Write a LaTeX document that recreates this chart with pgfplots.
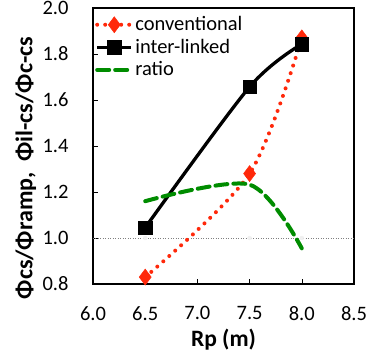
\documentclass[border=0pt]{standalone}
\usepackage{pgfplots}
\pgfplotsset{compat=1.18}
\usepackage{fontspec}
\setmainfont{Carlito}
\definecolor{cred}{RGB}{255,40,10}
\definecolor{cgreen}{RGB}{0,140,0}
\begin{document}
\begin{tikzpicture}
\fontsize{19}{23}\selectfont
\begin{axis}[
  name=ax,
  scale only axis,
  width=261pt, height=276pt,
  xmin=6.0, xmax=8.5, ymin=0.8, ymax=2.0,
  xtick={6.0,6.5,7.0,7.5,8.0,8.5},
  ytick={0.8,1.0,1.2,1.4,1.6,1.8,2.0},
  xticklabel style={/pgf/number format/.cd,fixed,fixed zerofill,precision=1},
  yticklabel style={/pgf/number format/.cd,fixed,fixed zerofill,precision=1},
  /pgf/number format/assume math mode=true,
  tick label style={font=\fontsize{20.5}{24}\selectfont},
  xticklabel shift=16pt,
  yticklabel shift=18pt,
  tick align=inside,
  xtick pos=left, ytick pos=left,
  major tick length=5pt,
  tick style={black, line width=0.6pt},
  axis line style={line width=1.8pt},
  clip=false,
  xlabel={\textbf{Rp (m)}},
  xlabel style={font=\fontsize{23.5}{26}\selectfont, at={(axis description cs:0.5,-0.2)}, anchor=center},
  ylabel={\textbf{Φcs/Φramp,\ \ Φil-cs/Φc-cs}},
  ylabel style={font=\fontsize{24}{26}\selectfont, at={(axis description cs:-0.257,0.42)}, anchor=center},
  legend style={draw=none, fill=none, at={(axis description cs:0.0,1.0)}, anchor=north west,
    font=\fontsize{20.5}{23}\selectfont, row sep=1.5pt, inner xsep=2pt, inner ysep=6pt},
  legend cell align=left,
  legend image code/.code={
    \draw[#1] (0cm,0cm) -- (1.2cm,0cm);
    \draw[#1, only marks] plot coordinates {(0.6cm,0cm)};
  },
]
% reference line at 1.0
\addplot[gray, line width=0.5pt, dotted, forget plot] coordinates {(6.0,1.0) (8.5,1.0)};
\addplot[only marks, mark=*, mark size=2pt, color=gray!12, forget plot] coordinates {(6.5,1.0) (7.5,1.0) (8.0,1.0)};
\addplot[cred, line width=4pt, dash pattern=on 0pt off 8pt, line cap=round, smooth,
  mark=diamond*, mark size=8pt, mark options={solid, fill=cred, draw=cred, line width=0.5pt}]
  coordinates {(6.5,0.83) (7.5,1.28) (8.0,1.87)};
\addlegendentry{conventional}
\addplot[black, line width=3.3pt, smooth,
  mark=square*, mark size=6.8pt, mark options={solid, fill=black, line width=0.5pt}]
  coordinates {(6.5,1.045) (7.5,1.657) (8.0,1.843)};
\addlegendentry{inter-linked}
\addplot[cgreen, line width=4pt, dash pattern=on 12pt off 6pt, line cap=round, smooth, no markers]
  coordinates {(6.5,1.16) (7.5,1.232) (8.0,0.955)};
\addlegendentry{ratio}
\end{axis}
\pgfresetboundingbox
\path (ax.south west) ++(-93pt,-79pt) rectangle ++(369pt,363pt);
\end{tikzpicture}
\end{document}
